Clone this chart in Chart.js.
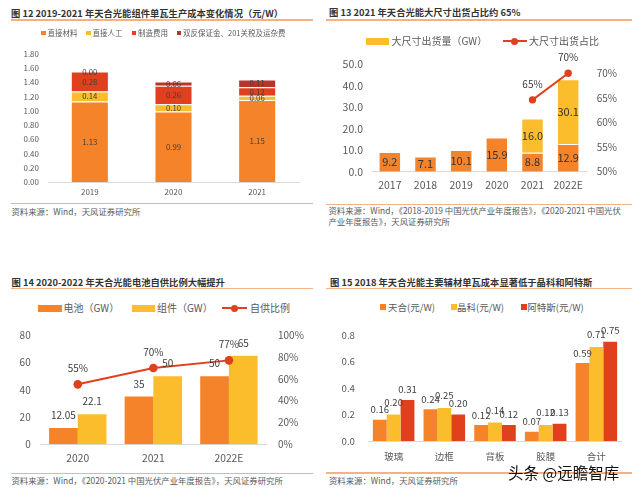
<!DOCTYPE html>
<html>
<head>
<meta charset="utf-8">
<script src="https://cdn.jsdelivr.net/npm/chart.js@4.4.1/dist/chart.umd.min.js"></script>
<style>
body { margin: 0; }
#page { position: relative; width: 640px; height: 493px; background: #fff; overflow: hidden;
        font-family: "Noto Sans CJK SC", "Noto Sans", sans-serif; }
.t { position: absolute; white-space: nowrap; }
.title { font-weight: bold; font-size: 9.3px; color: #333; line-height: 12px; }
.src { font-size: 8.4px; color: #595959; line-height: 11px; }
.rule { position: absolute; height: 1.5px; background: #F4B183; }
.lg { position: absolute; white-space: nowrap; }
canvas { position: absolute; }
</style>
</head>
<body>
<div id="page">
  <div class="t title" style="left:11px;top:7px">图 12 2019-2021 年天合光能组件单瓦生产成本变化情况（元/W）</div>
  <div class="rule" style="left:11px;top:19px;width:302px"></div>
  <div class="rule" style="left:11px;top:202.5px;width:302px"></div>
  <div class="t src" style="left:11.5px;top:205.5px">资料来源：Wind，天风证券研究所</div>

  <div class="t title" style="left:329px;top:6px">图 13 2021 年天合光能大尺寸出货占比约 65%</div>
  <div class="rule" style="left:326px;top:19px;width:306px"></div>
  <div class="rule" style="left:326px;top:203.5px;width:306px"></div>
  <div class="t src" style="left:328.5px;top:205.2px">资料来源：Wind，《2018-2019 中国光伏产业年度报告》，《2020-2021 中国光伏</div>
  <div class="t src" style="left:328.5px;top:216.2px">产业年度报告》，天风证券研究所</div>

  <div class="t title" style="left:11.5px;top:276px">图 14 2020-2022 年天合光能电池自供比例大幅提升</div>
  <div class="rule" style="left:11px;top:287.5px;width:302px"></div>
  <div class="rule" style="left:11px;top:472.5px;width:302px"></div>
  <div class="t src" style="left:11.5px;top:474.5px">资料来源：Wind，《2020-2021 中国光伏产业年度报告》，天风证券研究所</div>

  <div class="t title" style="left:330px;top:276px">图 15 2018 年天合光能主要辅材单瓦成本显著低于晶科和阿特斯</div>
  <div class="rule" style="left:326px;top:287.5px;width:306px"></div>
  <div class="rule" style="left:326px;top:472px;width:306px"></div>
  <div class="t src" style="left:329px;top:474.5px">资料来源：Wind，天风证券研究所</div>

  <canvas id="c1" width="320" height="165" style="left:0;top:40px"></canvas>
  <canvas id="c2" width="320" height="158" style="left:320px;top:45px"></canvas>
  <canvas id="c3" width="320" height="155" style="left:0;top:318px"></canvas>
  <canvas id="c4" width="320" height="157" style="left:320px;top:316px"></canvas>

  <div class="t" style="left:508px;top:461px;font-size:15.5px;line-height:22px;color:#111">头条 @远瞻智库</div>
</div>
<script>
// 图12 单瓦生产成本（元/W）
const costYears = ['2019', '2020', '2021'];
const costMaterial = [1.13, 0.99, 1.15];
const costLabor = [0.14, 0.10, 0.06];
const costMfg = [0.28, 0.26, 0.12];
const costTariff = [0.00, 0.06, 0.11];
const costTicks = [0, 0.2, 0.4, 0.6, 0.8, 1.0, 1.2, 1.4, 1.6, 1.8];

// 图13 大尺寸出货
const shipYears = ['2017', '2018', '2019', '2020', '2021', '2022E'];
const shipOther = [9.2, 7.1, 10.1, 15.9, 8.8, 12.9];
const shipLarge = [null, null, null, null, 16.0, 30.1];
const shipShare = [null, null, null, null, 64.6, 70];
const shipTicks = [0, 10, 20, 30, 40, 50];
const shareTicks = [50, 55, 60, 65, 70];

// 图14 电池自供比例
const cellYears = ['2020', '2021', '2022E'];
const cellGW = [12.05, 35, 50];
const moduleGW = [22.1, 50, 65];
const selfRatio = [55, 70, 77];
const cellTicks = [0, 20, 40, 60, 80];
const ratioTicks = [0, 20, 40, 60, 80, 100];

// 图15 辅材单瓦成本
const auxItems = ['玻璃', '边框', '背板', '胶膜', '合计'];
const trina = [0.16, 0.24, 0.12, 0.07, 0.59];
const jinko = [0.20, 0.25, 0.14, 0.12, 0.71];
const csi = [0.31, 0.20, 0.12, 0.13, 0.75];
const auxTicks = [0, 0.2, 0.4, 0.6, 0.8];

const ORANGE = '#F5832A', YELLOW = '#FBBD2B', RED = '#E0401E', DARKRED = '#B8362A';
const FAM = '"Noto Sans CJK SC", "Noto Sans", sans-serif';
Chart.defaults.font.family = FAM;

// draws the value labels onto bars / points
const valueLabels = {
    id: 'valueLabels',
    afterDatasetsDraw(chart) {
        const ctx = chart.ctx;
        chart.data.datasets.forEach((ds, i) => {
            const lab = ds.valueLabel;
            if (!lab) return;
            const meta = chart.getDatasetMeta(i);
            ctx.save();
            ctx.font = lab.size + 'px ' + FAM;
            ctx.fillStyle = lab.color || '#404040';
            ctx.textAlign = 'center';
            ctx.textBaseline = 'middle';
            meta.data.forEach((el, j) => {
                const v = ds.data[j];
                if (v == null) return;
                const y = lab.pos === 'center' ? (el.y + el.base) / 2 : el.y - lab.offset;
                ctx.fillText(lab.format(v), el.x, y);
            });
            ctx.restore();
        });
    }
};

function yAxis(ticks, width, pad, size, fmt, extra) {
    return Object.assign({
        min: ticks[0],
        max: ticks[ticks.length - 1],
        grid: { display: false, drawTicks: false },
        border: { display: false },
        ticks: { padding: pad, color: '#595959', font: { size: size }, callback: fmt },
        afterBuildTicks: s => { s.ticks = ticks.map(v => ({ value: v })); },
        afterFit: s => { s.width = width; }
    }, extra || {});
}

function xAxis(height, pad, size, stacked) {
    return {
        stacked: !!stacked,
        grid: { display: false, drawTicks: false },
        border: { display: true, color: '#D9D9D9', width: 1 },
        ticks: { padding: pad, color: '#595959', font: { size: size } },
        afterFit: s => { s.height = height; }
    };
}

function baseOptions(padding) {
    return {
        responsive: false,
        animation: false,
        layout: { padding: padding },
        plugins: { legend: { display: false }, tooltip: { enabled: false } }
    };
}

function legend(items, cy, size) {
    const page = document.getElementById('page');
    items.forEach(it => {
        const m = document.createElement('div');
        m.className = 'lg';
        if (it.type === 'line') {
            m.style.cssText = `left:${it.x}px;top:${cy - 1}px;width:${it.w}px;height:2px;background:${it.color}`;
            const d = document.createElement('div');
            d.className = 'lg';
            d.style.cssText = `left:${it.x + it.w / 2 - 3.5}px;top:${cy - 3.5}px;width:7px;height:7px;border-radius:50%;background:${it.color}`;
            page.appendChild(m);
            page.appendChild(d);
        } else {
            m.style.cssText = `left:${it.x}px;top:${cy - it.h / 2}px;width:${it.w}px;height:${it.h}px;background:${it.color}`;
            page.appendChild(m);
        }
        const t = document.createElement('div');
        t.className = 'lg';
        t.style.cssText = `left:${it.tx}px;top:${cy - 8}px;line-height:16px;font-size:${size}px;color:#595959`;
        t.textContent = it.text;
        page.appendChild(t);
    });
}

// ---- 图12 ----
legend([
    { x: 41, w: 4.5, h: 4.5, color: ORANGE, tx: 47.5, text: '直接材料' },
    { x: 86, w: 4.5, h: 4.5, color: YELLOW, tx: 92.5, text: '直接人工' },
    { x: 131.7, w: 4.5, h: 4.5, color: RED, tx: 138, text: '制造费用' },
    { x: 176.7, w: 4.5, h: 4.5, color: DARKRED, tx: 183, text: '双反保证金、201关税及运杂费' }
], 33, 7.5);

const lab1 = { pos: 'center', size: 7.8, format: v => v.toFixed(2) };
new Chart(document.getElementById('c1'), {
    type: 'bar',
    data: {
        labels: costYears,
        datasets: [
            { data: costMaterial, backgroundColor: ORANGE, valueLabel: lab1 },
            { data: costLabor, backgroundColor: YELLOW, valueLabel: lab1 },
            { data: costMfg, backgroundColor: RED, valueLabel: lab1 },
            { data: costTariff, backgroundColor: DARKRED, valueLabel: lab1 }
        ].map(d => Object.assign(d, { borderColor: 'rgba(255,255,255,0.55)', borderWidth: 1,
                                      barPercentage: 0.455, categoryPercentage: 1 }))
    },
    options: Object.assign(baseOptions({ left: 0, top: 10, right: 21, bottom: 0 }), {
        scales: {
            x: xAxis(23, 5, 8, true),
            y: yAxis(costTicks, 48, 9, 8, v => v.toFixed(2), { stacked: true })
        }
    }),
    plugins: [valueLabels]
});

// ---- 图13 ----
legend([
    { x: 366, w: 23, h: 7, color: YELLOW, tx: 391.5, text: '大尺寸出货量（GW）' },
    { type: 'line', x: 502.7, w: 24, color: RED, tx: 529, text: '大尺寸出货占比' }
], 41, 10);

const lab2 = { pos: 'center', size: 11, color: '#333', format: v => v.toFixed(1) };
new Chart(document.getElementById('c2'), {
    type: 'bar',
    data: {
        labels: shipYears,
        datasets: [
            { type: 'line', data: shipShare, yAxisID: 'y2', order: 0, borderColor: RED, borderWidth: 2,
              pointRadius: 3.7, pointBackgroundColor: RED, pointBorderWidth: 0, tension: 0,
              valueLabel: { pos: 'top', offset: 16, size: 10, color: '#404040', format: v => Math.round(v) + '%' } },
            { data: shipOther, backgroundColor: ORANGE, order: 1, valueLabel: lab2,
              borderColor: 'rgba(255,255,255,0.6)', borderWidth: 1, barPercentage: 0.63, categoryPercentage: 1 },
            { data: shipLarge, backgroundColor: YELLOW, order: 1, valueLabel: lab2,
              borderColor: 'rgba(255,255,255,0.6)', borderWidth: 1, barPercentage: 0.63, categoryPercentage: 1 }
        ]
    },
    options: Object.assign(baseOptions({ left: 0, top: 19.3, right: 0, bottom: 0 }), {
        scales: {
            x: xAxis(31.3, 7, 10.5, true),
            y: yAxis(shipTicks, 52, 9, 10.5, v => v.toFixed(1), { stacked: true }),
            y2: yAxis(shareTicks, 54, 10.7, 10, v => v + '%', { position: 'right', max: 71.83, stacked: false })
        }
    }),
    plugins: [valueLabels]
});

// ---- 图14 ----
legend([
    { x: 38, w: 24, h: 6.5, color: ORANGE, tx: 63.5, text: '电池（GW）' },
    { x: 132, w: 23, h: 6.5, color: YELLOW, tx: 157, text: '组件（GW）' },
    { type: 'line', x: 222, w: 25, color: RED, tx: 250, text: '自供比例' }
], 308.3, 10);

const lab3 = { pos: 'top', offset: 12.5, size: 10, color: '#404040', format: v => String(v) };
new Chart(document.getElementById('c3'), {
    type: 'bar',
    data: {
        labels: cellYears,
        datasets: [
            { type: 'line', data: selfRatio, yAxisID: 'y2', order: 0, borderColor: RED, borderWidth: 2,
              pointRadius: 4.3, pointBackgroundColor: RED, pointBorderWidth: 0, tension: 0,
              valueLabel: { pos: 'top', offset: 16, size: 10, color: '#404040', format: v => v + '%' } },
            { data: cellGW, backgroundColor: ORANGE, order: 1, valueLabel: lab3,
              barPercentage: 1, categoryPercentage: 0.76 },
            { data: moduleGW, backgroundColor: YELLOW, order: 1, valueLabel: lab3,
              barPercentage: 1, categoryPercentage: 0.76 }
        ]
    },
    options: Object.assign(baseOptions({ left: 0, top: 14.3, right: 0, bottom: 0 }), {
        scales: {
            x: xAxis(28.7, 7.5, 10.3),
            y: yAxis(cellTicks, 40, 9.3, 10, v => String(v)),
            y2: yAxis(ratioTicks, 53.3, 11.3, 10, v => v + '%', { position: 'right' })
        }
    }),
    plugins: [valueLabels]
});

// ---- 图15 ----
legend([
    { x: 380, w: 6, h: 6, color: ORANGE, tx: 388, text: '天合(元/W)' },
    { x: 450.5, w: 6, h: 6, color: YELLOW, tx: 457, text: '晶科(元/W)' },
    { x: 520.5, w: 6, h: 6, color: RED, tx: 527.3, text: '阿特斯(元/W)' }
], 306.7, 9.5);

const fmt4 = v => v.toFixed(2);
new Chart(document.getElementById('c4'), {
    type: 'bar',
    data: {
        labels: auxItems,
        datasets: [
            { data: trina, backgroundColor: ORANGE, valueLabel: { pos: 'top', offset: 10, size: 9.6, format: fmt4 } },
            { data: jinko, backgroundColor: YELLOW, valueLabel: { pos: 'top', offset: 12.5, size: 9.6, format: fmt4 } },
            { data: csi, backgroundColor: RED, valueLabel: { pos: 'top', offset: 11, size: 9.6, format: fmt4 } }
        ].map(d => Object.assign(d, { barPercentage: 1, categoryPercentage: 0.82 }))
    },
    options: Object.assign(baseOptions({ left: 0, top: 14, right: 18.3, bottom: 0 }), {
        scales: {
            x: xAxis(32, 10, 9.5),
            y: yAxis(auxTicks, 48.3, 13.3, 9.7, v => v.toFixed(1))
        }
    }),
    plugins: [valueLabels]
});
</script>
</body>
</html>
